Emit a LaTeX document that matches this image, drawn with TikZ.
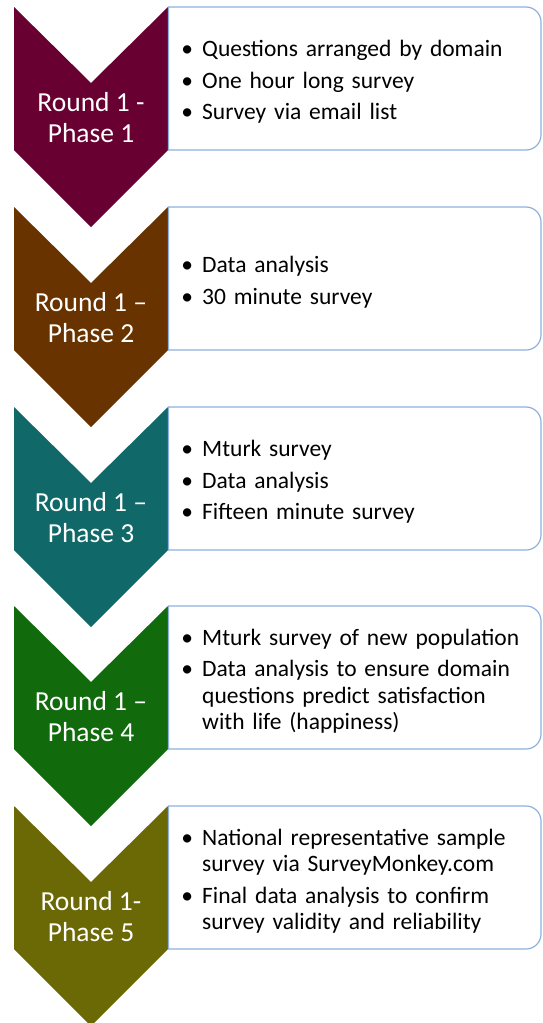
\documentclass[tikz,border=0pt]{standalone}
\usepackage{fontspec}
\setmainfont{Carlito}
\usepackage{enumitem}
\usepackage{xcolor}
\definecolor{phaseOne}  {HTML}{690032}
\definecolor{phaseTwo}  {HTML}{693300}
\definecolor{phaseThree}{HTML}{116868}
\definecolor{phaseFour} {HTML}{116B0C}
\definecolor{phaseFive} {HTML}{6B6806}
\definecolor{boxLine}   {HTML}{8DB0E0}
\setlist[itemize]{label=\textbullet, leftmargin=26pt, labelsep=9pt,
                  itemsep=5pt, topsep=0pt, partopsep=0pt, parsep=0pt}

\begin{document}
\begin{tikzpicture}[
    x=1pt, y=-1pt,
    box/.style={draw=boxLine, fill=white, line width=1.2pt},
    lab/.style={text=white, align=center, inner sep=0pt,
                font=\fontsize{27.5}{31}\selectfont},
    items/.style={anchor=west, text width=360pt, inner sep=0pt,
                  font=\fontsize{23.5}{26.5}\selectfont}
]
\useasboundingbox (0,0) rectangle (543,1023);
% One chevron and one text box per phase
\foreach \n/\y/\col/\head/\txt in {
    1/7/phaseOne/{Round 1 -\\Phase 1}/{\item Questions arranged by domain
        \item One hour long survey \item Survey via email list},
    2/207/phaseTwo/{Round 1 --\\Phase 2}/{\item Data analysis
        \item 30 minute survey},
    3/407/phaseThree/{Round 1 --\\Phase 3}/{\item Mturk survey
        \item Data analysis \item Fifteen minute survey},
    4/606/phaseFour/{Round 1 --\\Phase 4}/{\item Mturk survey of new population
        \item Data analysis to ensure domain\newline questions predict satisfaction\newline with life (happiness)},
    5/806/phaseFive/{Round 1-\\Phase 5}/{\item National representative sample\newline survey via SurveyMonkey.com
        \item Final data analysis to confirm\newline survey validity and reliability}} {
    % chevron
    \fill[\col] (14,\y) -- (91,\y+76) -- (168,\y) -- (168,\y+143)
        -- (91,\y+220) -- (14,\y+143) -- cycle;
    \node[lab] (round\n) at (91,\y+111) {\head};
    % text box, rounded on the right side only
    \draw[box] (168.5,\y) [rounded corners=15pt] -- (541,\y) -- (541,\y+143)
        [sharp corners] -- (168.5,\y+143) -- cycle;
    \node[items] (items\n) at (176,\y+70) {\begin{itemize}\txt\end{itemize}};
}
\end{tikzpicture}
\end{document}
